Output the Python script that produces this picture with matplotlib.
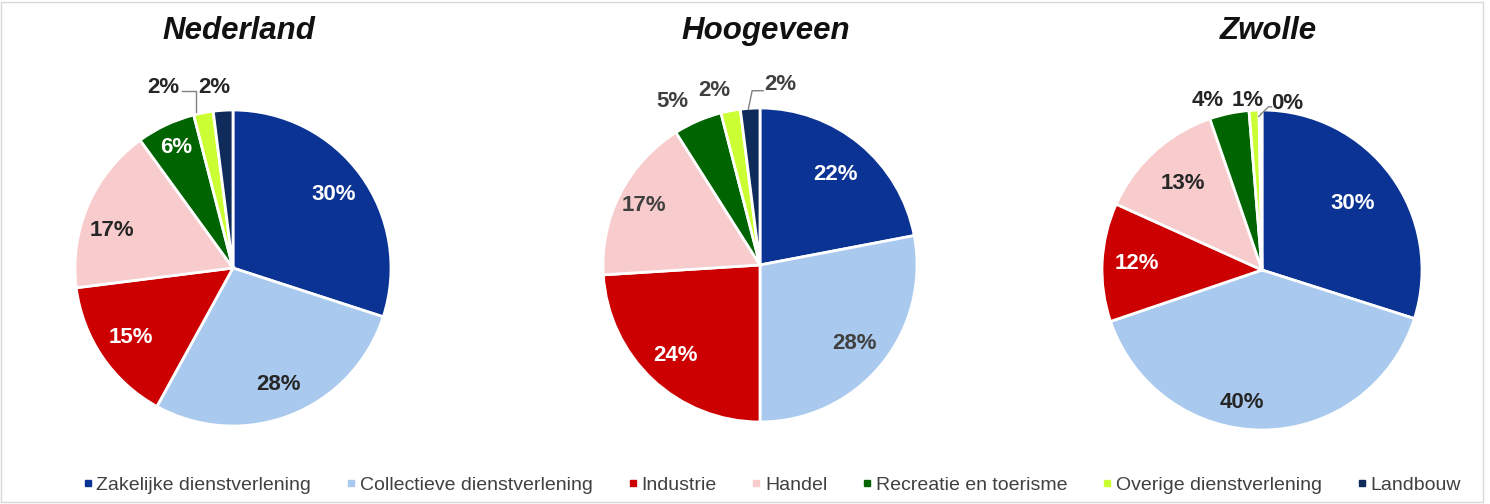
import matplotlib
matplotlib.use("Agg")
import matplotlib.pyplot as plt
import numpy as np
from matplotlib.patches import Rectangle
from matplotlib.lines import Line2D

plt.rcParams['font.family'] = ['Liberation Sans', 'DejaVu Sans']

categories = ["Zakelijke dienstverlening", "Collectieve dienstverlening", "Industrie",
              "Handel", "Recreatie en toerisme", "Overige dienstverlening", "Landbouw"]
colors = ["#0A3394", "#A9C9EE", "#CC0000", "#F8CCCC", "#006400", "#CCFF33", "#0E2B5C"]

regions = ["Nederland", "Hoogeveen", "Zwolle"]
nederland = [30, 28, 15, 17, 6, 2, 2]
hoogeveen = [22, 28, 24, 17, 5, 2, 2]
zwolle = [30, 40, 12, 13, 4, 1, 0.3]
values = [nederland, hoogeveen, zwolle]

W, H = 1490, 504
fig = plt.figure(figsize=(W / 100, H / 100), dpi=100)
fig.patch.set_facecolor("white")
fig.patches.append(Rectangle((1 / W, 2 / H), 1 - 8 / W, 1 - 4 / H, transform=fig.transFigure,
                             fill=False, edgecolor="#d9d9d9", linewidth=1))

# pie centres (px from left, px from top) and radius px
layout = [(233, 268, 158), (760, 265, 157), (1262, 270, 160)]
dark = "#262626"
gray = "#404040"
label_colors = {
    0: ["white", dark, "white", dark, "white"],
    1: ["white", gray, "white", gray, "white"],
    2: ["white", dark, "white", dark, "white"],
}
# per-label radial distance / angle tweaks for inner labels
inner_dist = {
    0: [0.79, 0.79, 0.78, 0.80, 0.84],
    1: [0.75, 0.78, 0.79, 0.83, 0.8],
    2: [0.70, 0.84, 0.78, 0.73, 0.8],
}
angle_tweak = {
    0: [0, 0, 0, 6, 0],
    1: [0, 0, 0, 0, 0],
    2: [0, -9, 0, 0, 0],
}

# outside label placements (data coords relative to radius 1) for small slices
outside = {
    0: {5: (-0.44, 1.14), 6: (-0.12, 1.14)},
    1: {4: (-0.56, 1.04), 5: (-0.29, 1.11), 6: (0.13, 1.15)},
    2: {4: (-0.34, 1.06), 5: (-0.09, 1.06), 6: (0.16, 1.04)},
}
leaders = {
    0: [(5, [(-0.32, 1.12), (-0.235, 1.12), (-0.235, 0.99)])],
    1: [(6, [(-0.075, 0.99), (-0.05, 1.11), (0.02, 1.11)])],
    2: [(6, [(-0.02, 0.96), (0.04, 1.02), (0.06, 1.02)])],
}

for i, (name, vals) in enumerate(zip(regions, values)):
    cx, cy, r = layout[i]
    ax = fig.add_axes([(cx - r) / W, (H - cy - r) / H, 2 * r / W, 2 * r / H])
    wedges, _ = ax.pie(vals, colors=colors, startangle=90, counterclock=False,
                       radius=1, wedgeprops=dict(edgecolor="white", linewidth=2))
    ax.set_xlim(-1, 1)
    ax.set_ylim(-1, 1)
    ax.set_aspect("auto")
    ax.axis("off")
    total = sum(vals)
    cum = 0
    for j, v in enumerate(vals):
        mid = 90 - 360 * (cum + v / 2) / total
        cum += v
        txt = f"{v:.0f}%"
        if j in outside[i]:
            x, y = outside[i][j]
            ax.text(x, y, txt, ha="center", va="center", fontsize=16, fontweight="bold",
                    color=gray if i == 1 else dark, clip_on=False)
        else:
            d = inner_dist[i][j]
            a = np.radians(mid + angle_tweak[i][j])
            x, y = d * np.cos(a), d * np.sin(a)
            ax.text(x, y, txt, ha="center", va="center", fontsize=16, fontweight="bold",
                    color=label_colors[i][j])
    for j, pts in leaders[i]:
        xs, ys = zip(*pts)
        ax.add_line(Line2D(xs, ys, color="#808080", linewidth=1, clip_on=False))
    fig.text(cx / W + 0.004, 1 - 31 / H, name, ha="center", va="center", fontsize=22.5,
             fontweight="bold", fontstyle="italic", color="#111111")

handles = [plt.Line2D([], [], marker="s", linestyle="none", markersize=5,
                      markerfacecolor=c, markeredgecolor=c) for c in colors]
fig.legend(handles, categories, loc="center", bbox_to_anchor=(772 / W, 1 - 485 / H), ncol=7,
           frameon=False, fontsize=14, handletextpad=0.2, columnspacing=1.8,
           handlelength=0.5, labelcolor="#404040")

fig.savefig("out.png", dpi=100, facecolor="white")
